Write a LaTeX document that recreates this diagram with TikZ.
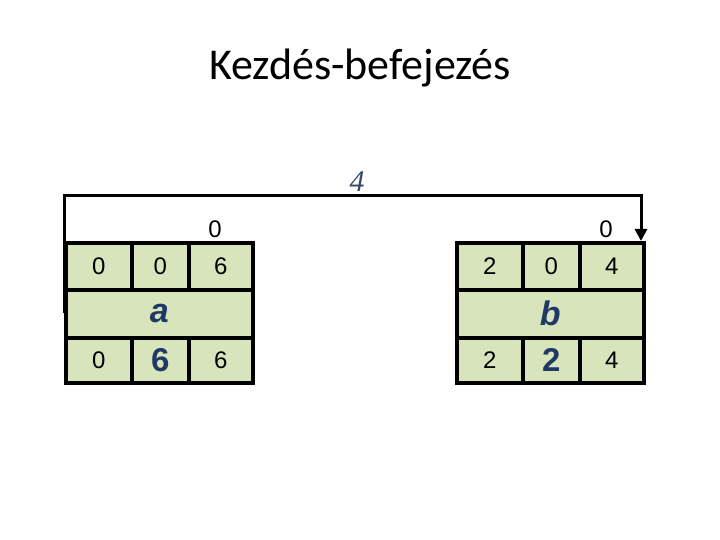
\documentclass[tikz,border=0pt]{standalone}
\usepackage{fontspec}
\setmainfont{Liberation Sans}
\newfontfamily\titlefont{Carlito}
\newfontfamily\serifit{Liberation Serif}
\usetikzlibrary{arrows.meta,calc}
\definecolor{cellfill}{HTML}{D8E4BC}
\definecolor{navy}{HTML}{1F3864}
\definecolor{labblue}{HTML}{3B4A6B}
\begin{document}
\begin{tikzpicture}[x=1pt,y=-1pt,
  cell/.style={draw=black,line width=3.5pt,fill=cellfill,inner sep=0pt,anchor=north west,font=\fontsize{24}{26}\selectfont},
  big/.style={font=\fontsize{33}{36}\selectfont\bfseries,text=navy},
  mid/.style={font=\fontsize{34}{36}\selectfont\bfseries\itshape,text=navy},
  conn/.style={line width=3pt,-{Triangle[width=12pt,length=12pt]}},
  lab/.style={font=\fontsize{24}{26}\selectfont}]
\useasboundingbox[fill=white] (0,0) rectangle (720,540);
\node (title) at (360,68) {\titlefont\fontsize{44}{48}\selectfont Kezdés-befejezés};
% box a
\node[cell,minimum width=66pt,minimum height=47pt] (a1) at (64,241) {0};
\node[cell,minimum width=57pt,minimum height=47pt] (a2) at (130,241) {0};
\node[cell,minimum width=64pt,minimum height=47pt] (a3) at (187,241) {6};
\node[cell,minimum width=187pt,minimum height=48pt,mid] (am) at (64,288) {a};
\node[cell,minimum width=66pt,minimum height=45pt] (a4) at (64,336) {0};
\node[cell,minimum width=57pt,minimum height=45pt,big] (a5) at (130,336) {6};
\node[cell,minimum width=64pt,minimum height=45pt] (a6) at (187,336) {6};
% box b
\node[cell,minimum width=66pt,minimum height=47pt] (b1) at (455,241) {2};
\node[cell,minimum width=57pt,minimum height=47pt] (b2) at (521,241) {0};
\node[cell,minimum width=64pt,minimum height=47pt] (b3) at (578,241) {4};
\node[cell,minimum width=187pt,minimum height=48pt,mid] (bm) at (455,288) {b};
\node[cell,minimum width=66pt,minimum height=45pt] (b4) at (455,336) {2};
\node[cell,minimum width=57pt,minimum height=45pt,big] (b5) at (521,336) {2};
\node[cell,minimum width=64pt,minimum height=45pt] (b6) at (578,336) {4};
% labels above
\node[lab] (la) at (215,229) {0};
\node[lab] (lb) at (606,229) {0};
% connector
\coordinate (s) at (64,313);
\coordinate (t) at (641,196);
\draw[conn] (s) |- (t) -- (t |- b3.north);
\node[text=labblue,font=\serifit\itshape\fontsize{30}{32}\selectfont] (four) at (357,182) {4};
\end{tikzpicture}
\end{document}
